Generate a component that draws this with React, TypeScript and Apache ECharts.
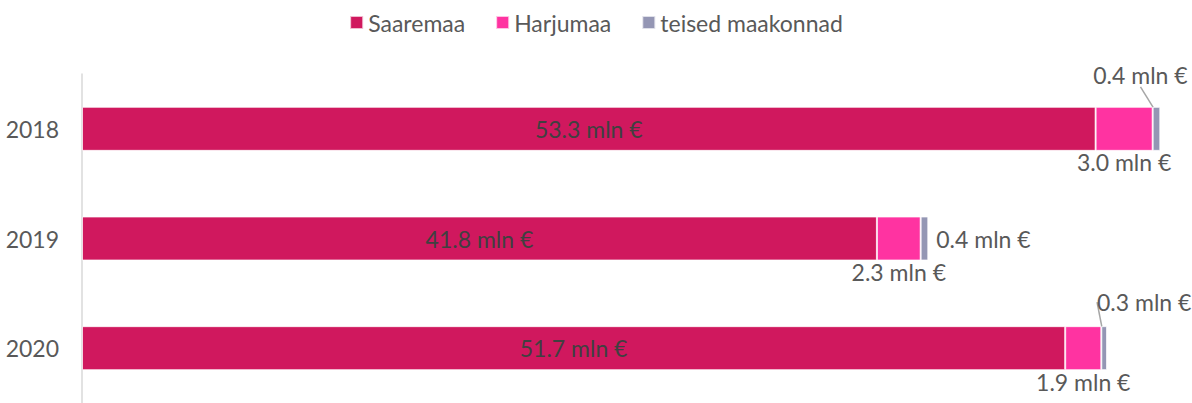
import React, { useEffect, useRef } from "react";
import * as echarts from "echarts";

const categories = ["2018", "2019", "2020"];
const seriesNames = ["Saaremaa", "Harjumaa", "teised maakonnad"];
const saaremaa = [53.3, 41.8, 51.7];
const harjumaa = [3.0, 2.3, 1.9];
const teised = [0.4, 0.4, 0.3];

const FONT = "Lato, 'Open Sans', sans-serif";
const FS = 23;
const fmt = (p: any) => `${Number(p.value).toFixed(1)} mln €`;

export default function App() {
  const ref = useRef<HTMLDivElement>(null);
  useEffect(() => {
    if (!ref.current) return;
    const chart = echarts.init(ref.current, undefined, { renderer: "svg" });
    const border = { borderColor: "rgba(255,255,255,0.7)", borderWidth: 1 };
    const labelBase = { fontSize: FS, fontFamily: FONT, color: "#595959", formatter: fmt };
    chart.setOption({
      animation: false,
      textStyle: { fontFamily: FONT },
      legend: {
        top: 6,
        left: "center",
        icon: "rect",
        itemWidth: 13,
        itemHeight: 13,
        itemGap: 30,
        textStyle: { fontSize: FS, color: "#595959", fontFamily: FONT },
        data: seriesNames,
      },
      grid: { left: 82, right: 7, top: 74, height: 333, containLabel: false },
      xAxis: { type: "value", min: 0, max: 58, show: false },
      yAxis: {
        type: "category",
        data: categories,
        inverse: true,
        axisLine: { show: true, lineStyle: { color: "#D9D9D9", width: 1.5 } },
        axisTick: { show: false },
        axisLabel: { fontSize: FS, color: "#595959", fontFamily: FONT, margin: 23 },
      },
      series: [
        {
          name: seriesNames[0],
          type: "bar",
          stack: "total",
          barWidth: 44,
          itemStyle: { color: "#D0185E", ...border },
          label: { show: true, position: "inside", ...labelBase, color: "#404040" },
          data: saaremaa,
        },
        {
          name: seriesNames[1],
          type: "bar",
          stack: "total",
          barWidth: 44,
          itemStyle: { color: "#FF33A1", ...border },
          label: { show: true, position: "bottom", distance: 0, ...labelBase },
          data: harjumaa,
        },
        {
          name: seriesNames[2],
          type: "bar",
          stack: "total",
          barWidth: 44,
          itemStyle: { color: "#9496B4", ...border },
          label: { show: true, position: "right", distance: 8, ...labelBase },
          labelLine: { show: true, lineStyle: { color: "#A6A6A6", width: 1.5 } },
          labelLayout: (p: any) => {
            if (p.dataIndex === 0) return { dx: -16, dy: -18 };
            if (p.dataIndex === 2) return { dx: -18, dy: -46 };
            return {};
          },
          data: teised.map((v, i) => {
            if (i === 0) return { value: v, label: { position: "top", distance: 2 } };
            if (i === 1) return { value: v, labelLine: { show: false } };
            return { value: v };
          }),
        },
      ],
    });
    return () => chart.dispose();
  }, []);
  return (
    <div
      ref={ref}
      style={{ position: "fixed", left: 0, top: 0, width: 1192, height: 403, background: "#fff" }}
    />
  );
}
